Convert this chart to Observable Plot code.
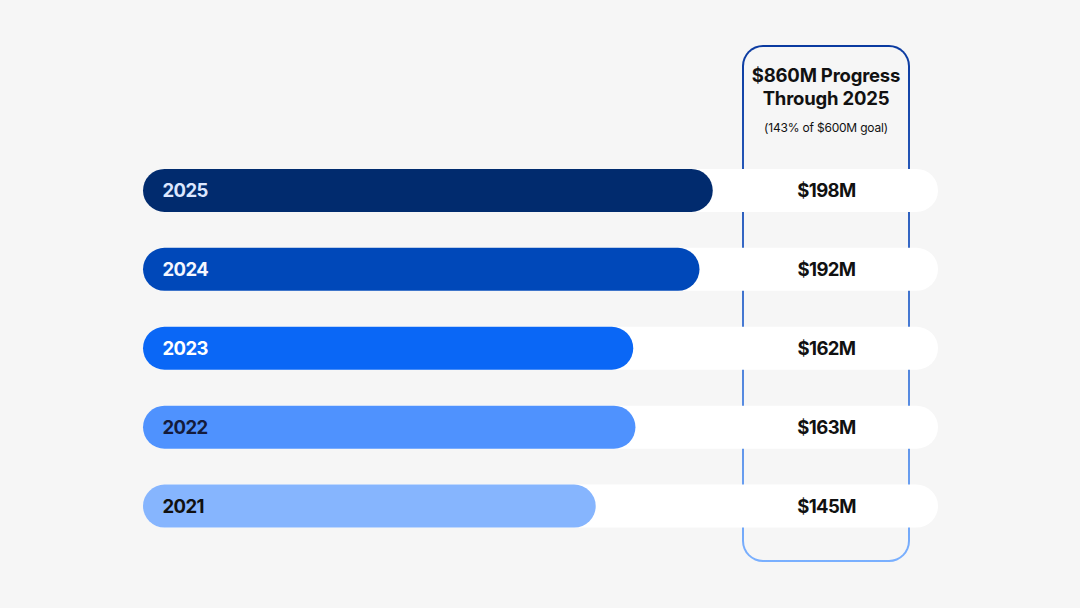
<!DOCTYPE html>
<html>
<head>
<meta charset="utf-8">
<script src="https://cdn.jsdelivr.net/npm/d3@7"></script>
<script src="https://cdn.jsdelivr.net/npm/@observablehq/plot@0.6"></script>
<style>
  html, body { margin: 0; padding: 0; background: #f6f6f6; }
  body { width: 1080px; height: 608px; position: relative; overflow: hidden; font-family: Inter, "Noto Sans", sans-serif; }
  #box {
    position: absolute; left: 742px; top: 45px; width: 168px; height: 517px;
    border-radius: 21px; padding: 2px; box-sizing: border-box;
    background: linear-gradient(to bottom, #0a3aa0, #7ab0ff);
  }
  #boxInner {
    width: 100%; height: 100%; border-radius: 19px; background: #f6f6f6;
    text-align: center; box-sizing: border-box; padding-top: 17px;
  }
  #title { font-size: 18.5px; font-weight: 700; line-height: 23px; color: #111; letter-spacing: -0.2px; }
  #sub { font-size: 12px; color: #111; margin-top: 10px; letter-spacing: -0.2px; }
  #chart { position: absolute; left: 0; top: 0; }
  #chart text { letter-spacing: -0.6px; }
</style>
</head>
<body>
<div id="box"><div id="boxInner">
  <div id="title">$860M Progress<br>Through 2025</div>
  <div id="sub">(143% of $600M goal)</div>
</div></div>
<div id="chart"></div>
<script>
const years = ["2025", "2024", "2023", "2022", "2021"];
const values = [198, 192, 162, 163, 145];
const labels = ["$198M", "$192M", "$162M", "$163M", "$145M"];
const colors = ["#012b6e", "#0048b9", "#0a67f6", "#4f92fe", "#86b5fe"];
const labelColors = ["#dce7ff", "#f4f7ff", "#ffffff", "#141b3c", "#111111"];
const baseline = -60;
const trackMax = 300;

const data = years.map((y, i) => ({year: y, value: values[i], label: labels[i], color: colors[i], labelColor: labelColors[i]}));

const plot = Plot.plot({
  width: 1080,
  height: 608,
  marginLeft: 143,
  marginRight: 142,
  marginTop: 133,
  marginBottom: 44.5,
  style: {background: "transparent", fontFamily: "Inter, 'Noto Sans', sans-serif"},
  x: {domain: [baseline, trackMax], axis: null},
  y: {domain: years, axis: null, padding: 0.455, round: false},
  marks: [
    Plot.barX(data, {y: "year", x1: baseline, x2: trackMax, fill: "#ffffff", rx: 21.5}),
    Plot.barX(data, {y: "year", x1: baseline, x2: "value", fill: d => d.color, rx: 21.5}),
    Plot.text(data, {y: "year", text: "year", frameAnchor: "left", dx: 19, textAnchor: "start", fill: d => d.labelColor, fontSize: 18.5, fontWeight: 700}),
    Plot.text(data, {y: "year", text: "label", frameAnchor: "right", dx: -112, textAnchor: "middle", fill: "#111111", fontSize: 18.5, fontWeight: 700})
  ]
});
document.getElementById("chart").appendChild(plot);
</script>
</body>
</html>
